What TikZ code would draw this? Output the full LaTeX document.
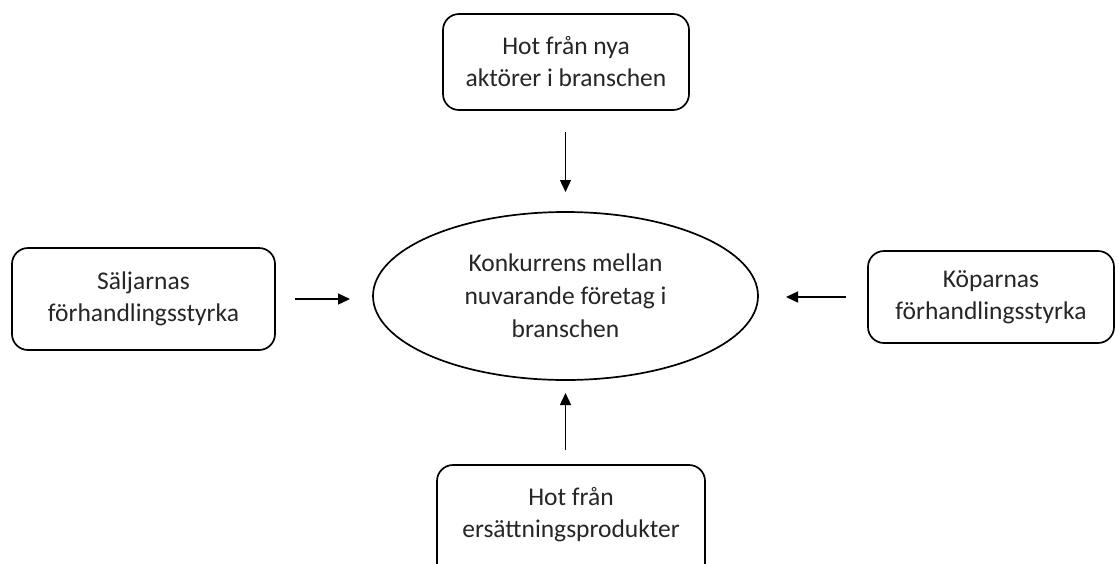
\documentclass[tikz,border=0pt]{standalone}
\usepackage{fontspec}
\setmainfont{Carlito}
\usetikzlibrary{arrows.meta,positioning,shapes.geometric}

\begin{document}
\begin{tikzpicture}[x=1pt,y=-1pt,
  force/.style={draw,line width=1.7pt,rounded corners=16pt,align=center,
    inner sep=0pt,outer sep=0pt,text=black!85,
    font=\fontsize{25.5}{32}\selectfont},
  rivalry/.style={draw,ellipse,line width=1.7pt,align=center,
    inner sep=0pt,outer sep=0pt,text=black!85,
    minimum width=385pt,minimum height=168pt,
    font=\fontsize{25.5}{33}\selectfont},
  pull/.style={-{Triangle[length=12pt,width=11pt]},line width=1.4pt}]
  \clip (0,0) rectangle (1119,563);
  \fill[white] (0,0) rectangle (1119,563);

  % Centre
  \node[rivalry] (core) at (565.5,296) {Konkurrens mellan\\nuvarande företag i\\branschen};

  % Forces
  \node[force,minimum width=246pt,minimum height=96pt] (entrants) at (566,62)
    {Hot från nya\\aktörer i branschen};
  \node[force,minimum width=263pt,minimum height=102pt] (suppliers) at (143.5,299)
    {Säljarnas\\förhandlingsstyrka};
  \node[force,minimum width=246pt,minimum height=92pt] (buyers) at (991,297)
    {Köparnas\\förhandlingsstyrka};
  \node[force,minimum width=268pt,minimum height=120pt,text depth=26pt] (substitutes) at (571,525)
    {Hot från\\ersättningsprodukter};

  % Arrows
  \draw[pull,shorten <=22pt,shorten >=20pt] (entrants.south -| core.north) -- (core.north);
  \draw[pull,shorten <=20pt,shorten >=23pt] (suppliers.east) -- (suppliers.east -| core.west);
  \draw[pull,shorten <=22pt,shorten >=28pt] (buyers.west) -- (buyers.west -| core.east);
  \draw[pull,shorten <=15pt,shorten >=13pt] (substitutes.north -| core.south) -- (core.south);
\end{tikzpicture}
\end{document}
